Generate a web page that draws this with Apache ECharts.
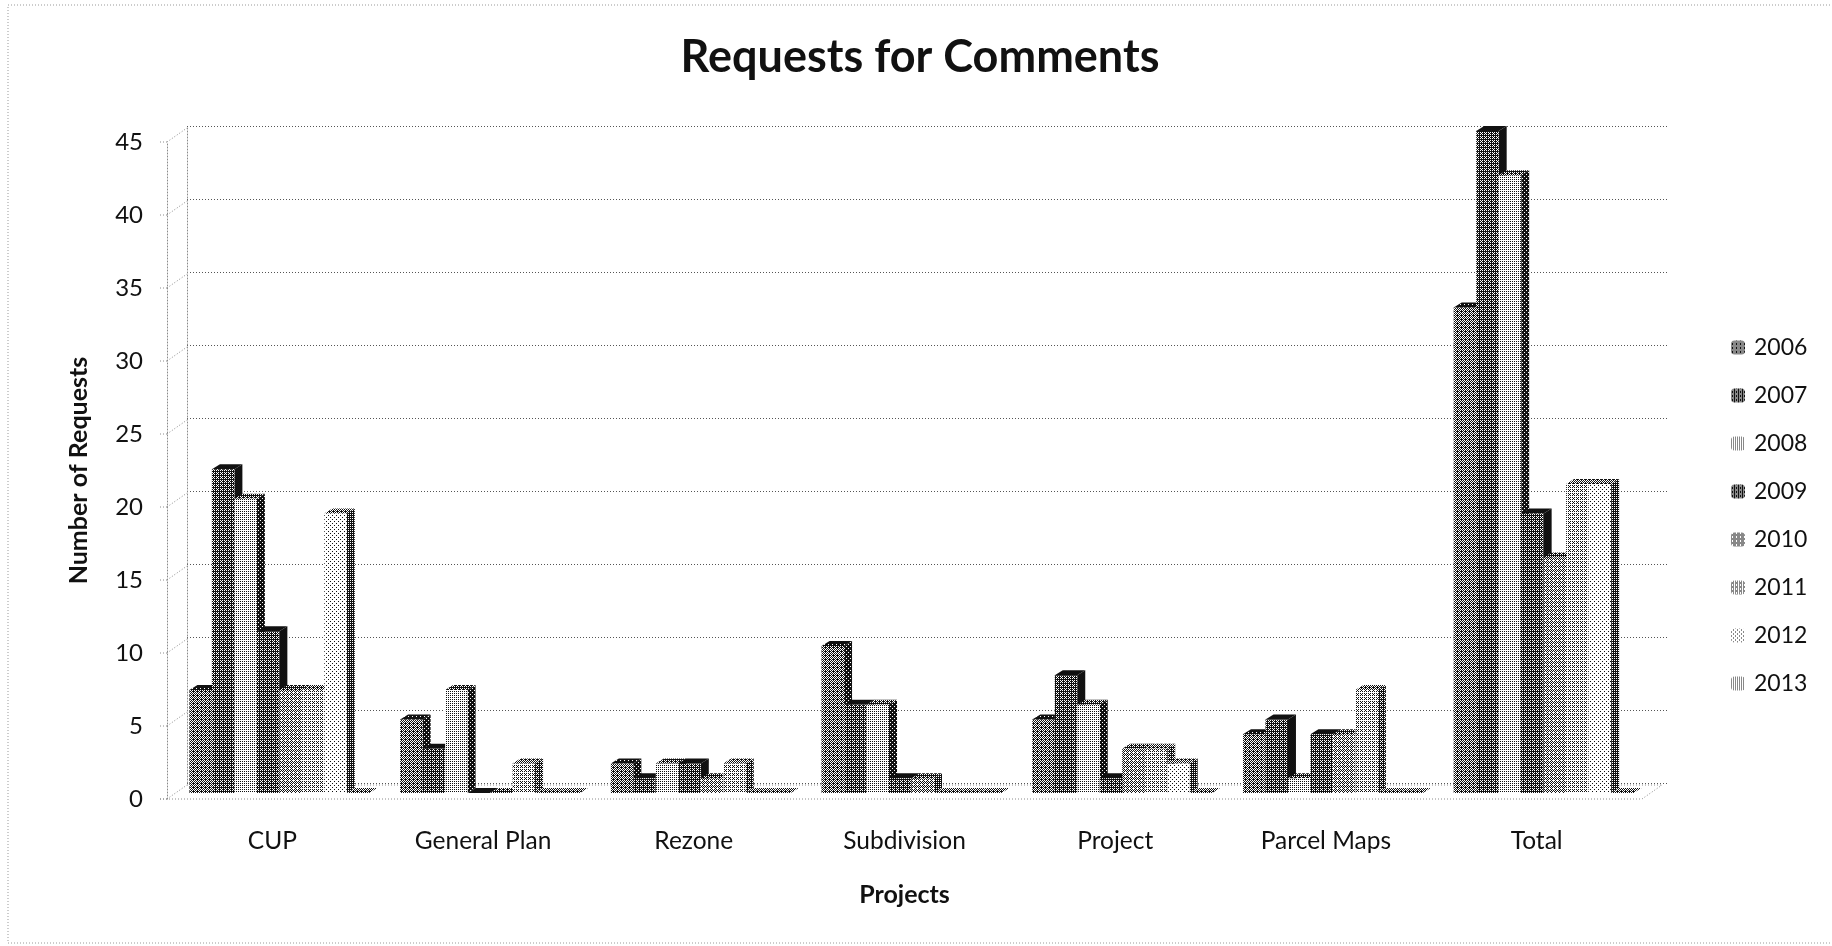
<!DOCTYPE html>
<html>
<head>
<meta charset="utf-8">
<title>Requests for Comments</title>
<script src="https://cdn.jsdelivr.net/npm/echarts@6/dist/echarts.min.js"></script>
<style>
  html, body { margin: 0; padding: 0; background: #fff; }
  #chart { width: 1832px; height: 946px; }
</style>
</head>
<body>
<div id="chart"></div>
<script>
// data
const categories = ['CUP', 'General Plan', 'Rezone', 'Subdivision', 'Project', 'Parcel Maps', 'Total']
const years = ['2006', '2007', '2008', '2009', '2010', '2011', '2012', '2013']
const values2006 = [7, 5, 2, 10, 5, 4, 33]
const values2007 = [22, 3, 1, 6, 8, 5, 45]
const values2008 = [20, 7, 2, 6, 6, 1, 42]
const values2009 = [11, 0, 2, 1, 1, 4, 19]
const values2010 = [7, 0, 1, 1, 3, 4, 16]
const values2011 = [7, 2, 2, 0, 3, 7, 21]
const values2012 = [19, 0, 0, 0, 2, 0, 21]
const values2013 = [0, 0, 0, 0, 0, 0, 0]
const yTicks = [0, 5, 10, 15, 20, 25, 30, 35, 40, 45]

const allValues = [values2006, values2007, values2008, values2009, values2010, values2011, values2012, values2013]

// grey level of each year: front, side and top faces
const frontGrey = [0.44, 0.3, 0.72, 0.3, 0.56, 0.68, 0.86, 0.76]
const sideGrey = [0.12, 0.03, 0.12, 0.03, 0.25, 0.3, 0.25, 0.3]
const topGrey = [0.06, 0.0, 0.3, 0.0, 0.3, 0.45, 0.45, 0.45]

const fontName = 'Lato, "Open Sans", sans-serif'
const gridColor = '#8a8a8a'
const depthX = 8
const depthY = -5
const wallX = 20
const wallY = -14

// the reference is a black and white scan, so fills are dithered
const bayer = [
  [0, 8, 2, 10],
  [12, 4, 14, 6],
  [3, 11, 1, 9],
  [15, 7, 13, 5]
]
const halftone = (level) => {
  const canvas = document.createElement('canvas')
  canvas.width = 4
  canvas.height = 4
  const ctx = canvas.getContext('2d')
  ctx.fillStyle = '#fff'
  ctx.fillRect(0, 0, 4, 4)
  ctx.fillStyle = '#111'
  for (let r = 0; r < 4; r++) {
    for (let c = 0; c < 4; c++) {
      if ((bayer[r][c] + 0.5) / 16 > level) ctx.fillRect(c, r, 1, 1)
    }
  }
  return { image: canvas, repeat: 'repeat' }
}

const frontFills = frontGrey.map(halftone)
const sideFills = sideGrey.map(halftone)
const topFills = topGrey.map(halftone)

// one 3D column: front, side and top faces
const renderBar = (yearIndex) => (params, api) => {
  const point = api.coord([api.value(0), api.value(1)])
  const base = api.coord([api.value(0), 0])
  const bandWidth = api.size([1, 0])[0]
  const barWidth = bandWidth * 0.1067
  const x0 = base[0] + (yearIndex - 4) * barWidth
  const x1 = x0 + barWidth
  const top = point[1]
  const bottom = base[1]
  return {
    type: 'group',
    children: [
      {
        type: 'polygon',
        shape: { points: [[x1, top], [x1 + depthX, top + depthY], [x1 + depthX, bottom + depthY], [x1, bottom]] },
        style: { fill: sideFills[yearIndex] }
      },
      {
        type: 'polygon',
        shape: { points: [[x0, top], [x0 + depthX, top + depthY], [x1 + depthX, top + depthY], [x1, top]] },
        style: { fill: topFills[yearIndex] }
      },
      {
        type: 'rect',
        shape: { x: x0, y: top, width: barWidth, height: bottom - top },
        style: { fill: frontFills[yearIndex] }
      }
    ]
  }
}

// dotted lines joining the front axis to the back wall, plus the floor
const renderWall = (params, api) => {
  const tick = api.value(0)
  const left = api.coord([0, tick])
  const bandWidth = api.size([1, 0])[0]
  const x = left[0] - bandWidth / 2
  const y = left[1]
  const line = (x1, y1, x2, y2) => ({
    type: 'line',
    shape: { x1, y1, x2, y2 },
    style: { stroke: gridColor, lineWidth: 1, lineDash: [1, 2] }
  })
  const children = [line(x - 7, y, x, y), line(x, y, x + wallX, y + wallY)]
  if (tick === 0) {
    const right = x + bandWidth * categories.length
    children.push(line(x - 7, y, right, y))
    children.push(line(right, y, right + wallX, y + wallY))
    children.push(line(x + wallX, y + wallY, right + wallX, y + wallY))
  }
  return { type: 'group', children }
}

const hiddenAxis = { show: false }

const chart = echarts.init(document.getElementById('chart'))
chart.setOption({
  animation: false,
  backgroundColor: '#fff',
  title: {
    text: 'Requests for Comments',
    left: 915,
    top: 30,
    textAlign: 'center',
    textStyle: { fontFamily: fontName, fontSize: 45, fontWeight: 'bold', color: '#111' }
  },
  grid: [
    { left: 167, right: 190, top: 142, bottom: 147 }, // front plane, holds the labels
    { left: 187, right: 165, top: 126, bottom: 163 }, // back wall, holds the gridlines
    { left: 174, right: 183, top: 131, bottom: 153 }  // mid plane, holds the columns
  ],
  xAxis: [
    {
      type: 'category',
      gridIndex: 0,
      data: categories,
      name: 'Projects',
      nameLocation: 'middle',
      nameGap: 83,
      nameTextStyle: { fontFamily: fontName, fontSize: 25, fontWeight: 'bold', color: '#111' },
      axisLine: { show: false },
      axisTick: { show: false },
      axisLabel: { margin: 30, interval: 0, fontFamily: fontName, fontSize: 24.5, color: '#111' }
    },
    { type: 'category', gridIndex: 1, data: categories, ...hiddenAxis },
    { type: 'category', gridIndex: 2, data: categories, ...hiddenAxis }
  ],
  yAxis: [
    {
      type: 'value',
      gridIndex: 0,
      min: 0,
      max: 45,
      interval: 5,
      name: 'Number of Requests',
      nameLocation: 'middle',
      nameGap: 76,
      nameTextStyle: { fontFamily: fontName, fontSize: 25, fontWeight: 'bold', color: '#111' },
      axisLine: { show: true, lineStyle: { color: gridColor, type: [1, 2] } },
      axisTick: { show: false },
      splitLine: { show: false },
      axisLabel: { margin: 24, fontFamily: fontName, fontSize: 24, color: '#111' }
    },
    {
      type: 'value',
      gridIndex: 1,
      min: 0,
      max: 45,
      interval: 5,
      axisLabel: { show: false },
      axisTick: { show: false },
      axisLine: { show: true, lineStyle: { color: gridColor, type: [1, 2] } },
      splitLine: { show: true, lineStyle: { color: '#555', width: 1, type: [1, 2] } }
    },
    { type: 'value', gridIndex: 2, min: 0, max: 45, interval: 5, ...hiddenAxis }
  ],
  legend: {
    orient: 'vertical',
    left: 1726,
    top: 331,
    itemWidth: 14,
    itemHeight: 14,
    itemGap: 25,
    data: years,
    textStyle: { fontFamily: fontName, fontSize: 23, color: '#111', padding: [0, 0, 0, 4] }
  },
  graphic: [
    {
      type: 'rect',
      silent: true,
      shape: { x: 8, y: 5, width: 1840, height: 938 },
      style: { fill: 'none', stroke: '#999', lineWidth: 1, lineDash: [1, 2] }
    }
  ],
  series: [
    {
      name: 'wall',
      type: 'custom',
      xAxisIndex: 0,
      yAxisIndex: 0,
      z: 1,
      clip: false,
      silent: true,
      data: yTicks.map((t) => [t]),
      encode: { y: 0 },
      renderItem: renderWall
    },
    ...years.map((year, i) => ({
      name: year,
      type: 'custom',
      xAxisIndex: 2,
      yAxisIndex: 2,
      z: 3 + i,
      clip: false,
      itemStyle: { color: frontFills[i] },
      data: allValues[i].map((v, c) => [c, v]),
      encode: { x: 0, y: 1 },
      renderItem: renderBar(i)
    }))
  ]
})
</script>
</body>
</html>
